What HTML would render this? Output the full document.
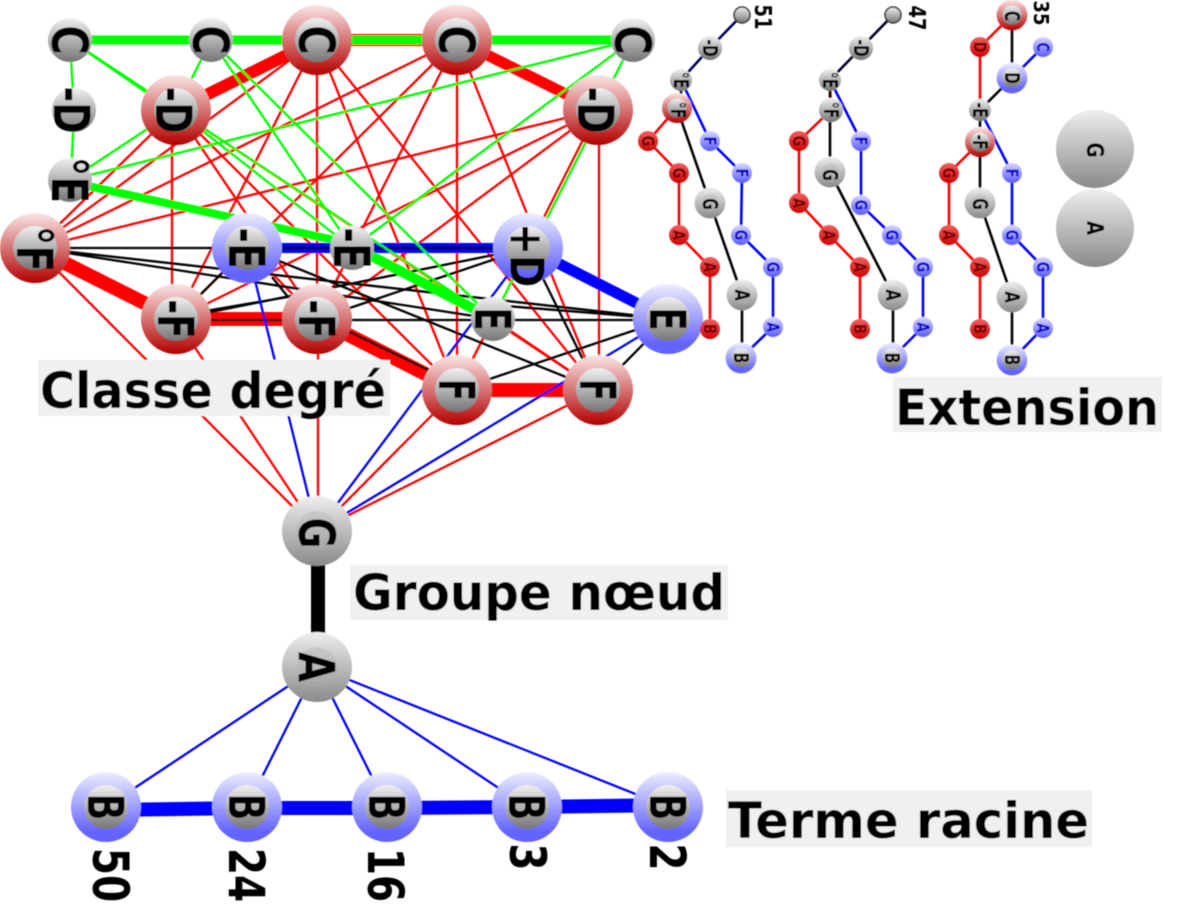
<!DOCTYPE html>
<html><head><meta charset="utf-8"><style>
html,body{margin:0;padding:0;background:#fff}
svg{display:block}
text{font-family:"DejaVu Sans","Liberation Sans",sans-serif;font-weight:bold;fill:#000;text-anchor:middle}
.lb{text-anchor:start;font-size:50px}
</style></head><body>
<svg width="1180" height="922" viewBox="0 0 1180 922" xmlns="http://www.w3.org/2000/svg">
<defs>
<filter id="soft" filterUnits="userSpaceOnUse" x="0" y="0" width="1180" height="922"><feGaussianBlur stdDeviation="0.5"/></filter>
<linearGradient id="gi" x1="0" y1="0" x2="0" y2="1"><stop offset="0" stop-color="#f0f0f0"/><stop offset="1" stop-color="#757575"/></linearGradient>
<linearGradient id="gr" x1="0" y1="0" x2="0" y2="1"><stop offset="0" stop-color="#fae6e6"/><stop offset="1" stop-color="#b40000"/></linearGradient>
<linearGradient id="gb" x1="0" y1="0" x2="0" y2="1"><stop offset="0" stop-color="#eeeeff"/><stop offset=".85" stop-color="#6464ff"/></linearGradient>
<linearGradient id="gg" x1="0" y1="0" x2="0" y2="1"><stop offset="0" stop-color="#eeeeee"/><stop offset="1" stop-color="#8a8a8a"/></linearGradient>
<linearGradient id="gsr" x1="0" y1="0" x2="0" y2="1"><stop offset="0" stop-color="#f06060"/><stop offset="1" stop-color="#d00000"/></linearGradient>
<linearGradient id="gsb" x1="0" y1="0" x2="0" y2="1"><stop offset="0" stop-color="#d8d8ff"/><stop offset="1" stop-color="#5a5aff"/></linearGradient>
<g id="R"><circle r="35" fill="url(#gr)"/><circle r="22" fill="url(#gi)"/></g>
<g id="B"><circle r="35" fill="url(#gb)"/><circle r="22" fill="url(#gi)"/></g>
<g id="N"><circle r="22" fill="url(#gi)"/></g>
<g id="L"><circle r="35" fill="url(#gg)"/><circle r="20" fill="#b0b0b0" opacity=".35"/></g>
<g id="sr"><circle r="10" fill="url(#gsr)"/></g>
<g id="sb"><circle r="10" fill="url(#gsb)"/></g>
</defs>
<g filter="url(#soft)">
<g fill="none" stroke-linecap="butt">
<!-- thin red -->
<path stroke="#f00" stroke-width="2.3" d="M317 40L176 319M317 40L317 319M317 40L457 390M317 40L598 390M317 40L35 248M457 40L35 248M457 40L176 319M457 40L317 319M457 40L457 390M457 40L598 390M176 110L35 248M172 110L172 319M176 110L317 319M176 110L457 390M176 110L598 390M598 110L35 248M598 110L176 319M598 110L317 319M598 110L457 390M599 110L599 390M35 248L317 531M176 319L317 531M318 319L318 531M457 390L317 531M598 390L317 531M457 390L493 319M598 390L493 319M247 248L317 319"/>
<!-- thick red -->
<path stroke="#f00" stroke-width="12" d="M317 40L176 110"/>
<path stroke="#f00" stroke-width="11" d="M457 40L598 110"/>
<path stroke="#f00" stroke-width="14" d="M35 248L176 319M176 319L317 319M317 319L457 390M457 390L598 390"/>
<path stroke="#f00" stroke-width="12" d="M317 40L457 40"/>
<!-- thin black -->
<path stroke="#000" stroke-width="2.3" d="M35 248L247 248M35 248L493 319M35 248L668 319M247 248L598 390M317 319L528 248M176 319L528 248M176 316L288 297L272 277M176 320L493 320M317 320L668 320M317 316L457 384M457 390L668 319M598 390L668 319M528 248L598 390M247 248L176 319M493 305L668 319"/>
<!-- thin blue -->
<path stroke="#00f" stroke-width="2.3" d="M247 248L317 531M528 248L317 531M668 319L317 531"/>
<!-- thick blue -->
<path stroke="#00f" stroke-width="10" d="M247 248L528 248"/>
<path stroke="#000" stroke-width="2.3" d="M247 248L528 248"/>
<path stroke="#00f" stroke-width="11" d="M528 248L668 319"/>
<path stroke="#00f" stroke-width="14" d="M106 810L247 808L387 808L527 807L668 805"/>
<path stroke="#00f" stroke-width="2.3" d="M317 667L106 807M317 667L247 807M317 667L387 807M317 667L527 807M317 667L668 807"/>
<!-- thin green -->
<path stroke="#0f0" stroke-width="2.3" d="M70 40L74 110M74 110L71 180M70 40L176 110M73 42L176 113M211 40L176 110M176 110L70 180M70 180L633 40M211 40L352 248M211 40L493 319M176 110L352 248M176 110L493 319M633 40L352 248M633 40L598 110M602 110L532 248M528 248L493 319"/>
<!-- thick green -->
<path stroke="#0f0" stroke-width="9" d="M70 40L211 40L317 40L457 40L633 40"/>
<path stroke="#0f0" stroke-width="8" d="M70 182L352 244"/>
<path stroke="#0f0" stroke-width="10" d="M352 246L493 319"/>
<!-- thick black -->
<path stroke="#000" stroke-width="14" d="M318 531L318 667"/>

<!-- lattices -->
<g stroke-width="2.6">
<path stroke="#000060" d="M742 15L710 48L681 80"/>
<path stroke="#000" d="M681 80L681 108M677 108L710 203L742 295L742 358"/>
<path stroke="#00f" d="M681 80L710 141L742 173L741 235L773 267L773 327L741 358"/>
<path stroke="#f00" d="M677 108L648 141L679 173L679 235L710 267L710 329"/>

<path stroke="#f00" d="M830 85L831 110"/>
<path stroke="#000020" d="M893 15L861 48L830 80"/>
<path stroke="#000" d="M830 80L830 172L893 295L893 358"/>
<path stroke="#00f" d="M830 80L861 141L861 205L892 235L923 267L923 327L892 358"/>
<path stroke="#f00" d="M831 110L799 141L799 203L829 235L860 267L860 329"/>

<path stroke="#f00" d="M1012 15L980 47L980 110"/>
<path stroke="#00f" d="M1043 47L1012 78"/>
<path stroke="#000" d="M1012 15L1012 78L980 110L980 203L1012 297L1012 360"/>
<path stroke="#00f" d="M980 110L1012 173L1012 235L1043 267L1043 328L1012 360"/>
<path stroke="#f00" d="M980 142L949 173L949 235L980 267L980 329"/>
</g>
</g>

<!-- label boxes -->
<rect x="38" y="360" width="352" height="56" fill="#f0f0f0"/>
<rect x="893" y="377" width="269" height="55" fill="#f0f0f0"/>
<rect x="350" y="565" width="378" height="55" fill="#f0f0f0"/>
<rect x="726" y="790" width="366" height="57" fill="#f0f0f0"/>

<!-- main nodes -->
<use href="#N" x="70" y="40"/><use href="#N" x="211" y="40"/><use href="#R" x="317" y="40"/><use href="#R" x="457" y="40"/><use href="#N" x="633" y="40"/>
<use href="#N" x="74" y="110"/><use href="#R" x="176" y="110"/><use href="#R" x="598" y="110"/>
<use href="#N" x="70" y="180"/><use href="#R" x="35" y="248"/><use href="#B" x="247" y="248"/><use href="#N" x="352" y="248"/><use href="#B" x="528" y="248"/>
<use href="#R" x="176" y="319"/><use href="#R" x="317" y="319"/><use href="#N" x="493" y="319"/><use href="#B" x="668" y="319"/>
<use href="#R" x="457" y="390"/><use href="#R" x="598" y="390"/>
<use href="#L" x="317" y="531"/><use href="#L" x="317" y="667"/>
<use href="#B" x="106" y="807"/><use href="#B" x="247" y="807"/><use href="#B" x="387" y="807"/><use href="#B" x="527" y="807"/><use href="#B" x="668" y="807"/>

<!-- main letters -->
<g font-size="50">
<text transform="translate(70,40) rotate(90) scale(.8,1)" y="18">C</text>
<text transform="translate(211,40) rotate(90) scale(.8,1)" y="18">C</text>
<text transform="translate(317,40) rotate(90) scale(.8,1)" y="18">C</text>
<text transform="translate(457,40) rotate(90) scale(.8,1)" y="18">C</text>
<text transform="translate(633,40) rotate(90) scale(.8,1)" y="18">C</text>
<text transform="translate(72,110) rotate(90) scale(.75,1)" y="18">-D</text>
<text transform="translate(174,110) rotate(90) scale(.75,1)" y="18">-D</text>
<text transform="translate(596,110) rotate(90) scale(.75,1)" y="18">-D</text>
<text transform="translate(70,180) rotate(90) scale(.78,1)" y="18">°E</text>
<text transform="translate(35,249) rotate(90) scale(.78,1)" y="18">°F</text>
<text transform="translate(247,248) rotate(90) scale(.75,1)" y="18">-E</text>
<text transform="translate(352,248) rotate(90) scale(.75,1)" y="18">-E</text>
<text transform="translate(527,255) rotate(90) scale(.77,.92)" y="18">+D</text>
<text transform="translate(176,319) rotate(90) scale(.72,1)" y="18">-F</text>
<text transform="translate(317,319) rotate(90) scale(.72,1)" y="18">-F</text>
<text transform="translate(493,319) rotate(90) scale(.68,1)" y="18">E</text>
<text transform="translate(668,319) rotate(90) scale(.68,1)" y="18">E</text>
<text transform="translate(457,390) rotate(90) scale(.65,1)" y="18">F</text>
<text transform="translate(598,390) rotate(90) scale(.65,1)" y="18">F</text>
<text transform="translate(317,533) rotate(90) scale(.75,1)" y="18">G</text>
<text transform="translate(317,667) rotate(90) scale(.78,1)" y="18">A</text>
<text transform="translate(106,807) rotate(90) scale(.7,1)" y="18">B</text>
<text transform="translate(247,807) rotate(90) scale(.7,1)" y="18">B</text>
<text transform="translate(387,807) rotate(90) scale(.7,1)" y="18">B</text>
<text transform="translate(527,807) rotate(90) scale(.7,1)" y="18">B</text>
<text transform="translate(668,807) rotate(90) scale(.7,1)" y="18">B</text>
<text transform="translate(111,875) rotate(90) scale(.78,1)" y="18">50</text>
<text transform="translate(247,875) rotate(90) scale(.78,1)" y="18">24</text>
<text transform="translate(386,875) rotate(90) scale(.78,1)" y="18">16</text>
<text transform="translate(528,857) rotate(90) scale(.78,1)" y="18">3</text>
<text transform="translate(668,857) rotate(90) scale(.78,1)" y="18">2</text>
</g>

<!-- labels -->
<text class="lb" x="40" y="408" textLength="346" lengthAdjust="spacingAndGlyphs">Classe degré</text>
<text class="lb" x="895" y="425" textLength="264" lengthAdjust="spacingAndGlyphs">Extension</text>
<text class="lb" x="353" y="610" textLength="372" lengthAdjust="spacingAndGlyphs">Groupe nœud</text>
<text class="lb" x="728" y="838" textLength="361" lengthAdjust="spacingAndGlyphs">Terme racine</text>

<!-- lattice 1 -->
<circle cx="742" cy="15" r="8" fill="url(#gi)" stroke="#333" stroke-width="1.5"/>
<use href="#N" transform="translate(710,48) scale(.55)"/>
<use href="#N" transform="translate(681,80) scale(.5)"/>
<use href="#R" transform="translate(677,108) scale(.43)"/>
<use href="#sb" x="710" y="141"/><use href="#sr" x="648" y="141"/><use href="#sr" x="679" y="173"/><use href="#sb" x="742" y="173"/>
<use href="#L" transform="translate(710,203) scale(.44)"/>
<use href="#sr" x="679" y="235"/><use href="#sr" x="710" y="267"/><use href="#sr" x="710" y="329"/>
<use href="#sb" x="741" y="235"/><use href="#sb" x="773" y="267"/><use href="#sb" x="773" y="327"/>
<use href="#L" transform="translate(742,295) scale(.44)"/>
<use href="#B" transform="translate(741,358) scale(.44)"/>

<!-- lattice 2 -->
<circle cx="893" cy="15" r="8" fill="url(#gi)" stroke="#333" stroke-width="1.5"/>
<use href="#N" transform="translate(861,48) scale(.55)"/>
<use href="#N" transform="translate(830,80) scale(.5)"/>
<use href="#N" transform="translate(831,110) scale(.55)"/>
<use href="#sb" x="861" y="141"/><use href="#sr" x="799" y="141"/>
<use href="#L" transform="translate(830,172) scale(.44)"/>
<use href="#sb" x="861" y="205"/><use href="#sr" x="799" y="203"/><use href="#sr" x="829" y="235"/><use href="#sr" x="860" y="267"/><use href="#sr" x="860" y="329"/>
<use href="#sb" x="892" y="235"/><use href="#sb" x="923" y="267"/><use href="#sb" x="923" y="327"/>
<use href="#L" transform="translate(893,295) scale(.44)"/>
<use href="#B" transform="translate(892,358) scale(.44)"/>

<!-- lattice 3 -->
<use href="#R" transform="translate(1012,15) scale(.44)"/>
<use href="#sr" x="980" y="47"/><use href="#sb" x="1043" y="47"/>
<use href="#B" transform="translate(1012,78) scale(.44)"/>
<use href="#N" transform="translate(980,110) scale(.5)"/>
<use href="#R" transform="translate(980,142) scale(.43)"/>
<use href="#sr" x="949" y="173"/><use href="#sb" x="1012" y="173"/>
<use href="#L" transform="translate(980,203) scale(.44)"/>
<use href="#sr" x="949" y="235"/><use href="#sr" x="980" y="267"/><use href="#sr" x="980" y="329"/>
<use href="#sb" x="1012" y="235"/><use href="#sb" x="1043" y="267"/><use href="#sb" x="1043" y="328"/>
<use href="#L" transform="translate(1012,297) scale(.44)"/>
<use href="#B" transform="translate(1012,360) scale(.44)"/>

<!-- big G A -->
<circle cx="1095" cy="149" r="39" fill="url(#gg)"/>
<circle cx="1095" cy="228" r="39" fill="url(#gg)"/>

<g font-size="23">
<text transform="translate(1095,150) rotate(90) scale(.8,1)" y="8">G</text>
<text transform="translate(1095,228) rotate(90) scale(.8,1)" y="8">A</text>
<text transform="translate(763,17) rotate(90) scale(.78,1)" y="8">51</text>
<text transform="translate(917,18) rotate(90) scale(.78,1)" y="8">47</text>
<text transform="translate(1041,13) rotate(90) scale(.78,.9)" y="8">35</text>
</g>
<g font-size="20">
<text transform="translate(710,48) rotate(90) scale(.7,1)" y="7">-D</text>
<text transform="translate(681,80) rotate(90) scale(.7,1)" y="7">°E</text>
<text transform="translate(678,110) rotate(90) scale(.7,1)" y="7">°F</text>
<text transform="translate(710,204) rotate(90) scale(.7,1)" y="7">G</text>
<text transform="translate(742,295) rotate(90) scale(.75,1)" y="7">A</text>
<text transform="translate(741,358) rotate(90) scale(.7,1)" y="7">B</text>
<text transform="translate(861,48) rotate(90) scale(.7,1)" y="7">-D</text>
<text transform="translate(830,80) rotate(90) scale(.7,1)" y="7">°E</text>
<text transform="translate(831,110) rotate(90) scale(.7,1)" y="7">°F</text>
<text transform="translate(830,175) rotate(90) scale(.7,1)" y="7">G</text>
<text transform="translate(893,295) rotate(90) scale(.75,1)" y="7">A</text>
<text transform="translate(892,358) rotate(90) scale(.7,1)" y="7">B</text>
<text transform="translate(1012,16) rotate(90) scale(.7,1)" y="7">C</text>
<text transform="translate(1012,78) rotate(90) scale(.7,1)" y="7">D</text>
<text transform="translate(980,110) rotate(90) scale(.7,1)" y="7">-E</text>
<text transform="translate(980,142) rotate(90) scale(.7,1)" y="7">-F</text>
<text transform="translate(980,204) rotate(90) scale(.7,1)" y="7">G</text>
<text transform="translate(1012,297) rotate(90) scale(.75,1)" y="7">A</text>
<text transform="translate(1012,360) rotate(90) scale(.7,1)" y="7">B</text>
</g>
<g font-size="17">
<text style="fill:#700" transform="translate(648,141) rotate(90) scale(.75,1)" y="6">G</text>
<text style="fill:#700" transform="translate(679,173) rotate(90) scale(.75,1)" y="6">G</text>
<text style="fill:#700" transform="translate(679,235) rotate(90) scale(.75,1)" y="6">A</text>
<text style="fill:#700" transform="translate(710,267) rotate(90) scale(.75,1)" y="6">A</text>
<text style="fill:#700" transform="translate(710,329) rotate(90) scale(.75,1)" y="6">B</text>
<text style="fill:#700" transform="translate(799,141) rotate(90) scale(.75,1)" y="6">G</text>
<text style="fill:#700" transform="translate(799,203) rotate(90) scale(.75,1)" y="6">A</text>
<text style="fill:#700" transform="translate(829,235) rotate(90) scale(.75,1)" y="6">A</text>
<text style="fill:#700" transform="translate(860,267) rotate(90) scale(.75,1)" y="6">A</text>
<text style="fill:#700" transform="translate(860,329) rotate(90) scale(.75,1)" y="6">B</text>
<text style="fill:#700" transform="translate(980,47) rotate(90) scale(.75,1)" y="6">D</text>
<text style="fill:#700" transform="translate(949,173) rotate(90) scale(.75,1)" y="6">G</text>
<text style="fill:#700" transform="translate(949,235) rotate(90) scale(.75,1)" y="6">A</text>
<text style="fill:#700" transform="translate(980,267) rotate(90) scale(.75,1)" y="6">A</text>
<text style="fill:#700" transform="translate(980,329) rotate(90) scale(.75,1)" y="6">B</text>
<text style="fill:#00c" transform="translate(710,141) rotate(90) scale(.75,1)" y="6">F</text>
<text style="fill:#00c" transform="translate(742,173) rotate(90) scale(.75,1)" y="6">F</text>
<text style="fill:#00c" transform="translate(741,235) rotate(90) scale(.75,1)" y="6">G</text>
<text style="fill:#00c" transform="translate(773,267) rotate(90) scale(.75,1)" y="6">G</text>
<text style="fill:#00c" transform="translate(773,327) rotate(90) scale(.75,1)" y="6">A</text>
<text style="fill:#00c" transform="translate(861,141) rotate(90) scale(.75,1)" y="6">F</text>
<text style="fill:#00c" transform="translate(861,205) rotate(90) scale(.75,1)" y="6">G</text>
<text style="fill:#00c" transform="translate(892,235) rotate(90) scale(.75,1)" y="6">G</text>
<text style="fill:#00c" transform="translate(923,267) rotate(90) scale(.75,1)" y="6">G</text>
<text style="fill:#00c" transform="translate(923,327) rotate(90) scale(.75,1)" y="6">A</text>
<text style="fill:#00c" transform="translate(1043,47) rotate(90) scale(.75,1)" y="6">C</text>
<text style="fill:#00c" transform="translate(1012,173) rotate(90) scale(.75,1)" y="6">F</text>
<text style="fill:#00c" transform="translate(1012,235) rotate(90) scale(.75,1)" y="6">G</text>
<text style="fill:#00c" transform="translate(1043,267) rotate(90) scale(.75,1)" y="6">G</text>
<text style="fill:#00c" transform="translate(1043,328) rotate(90) scale(.75,1)" y="6">A</text>
</g>
</g>
</svg>
</body></html>
